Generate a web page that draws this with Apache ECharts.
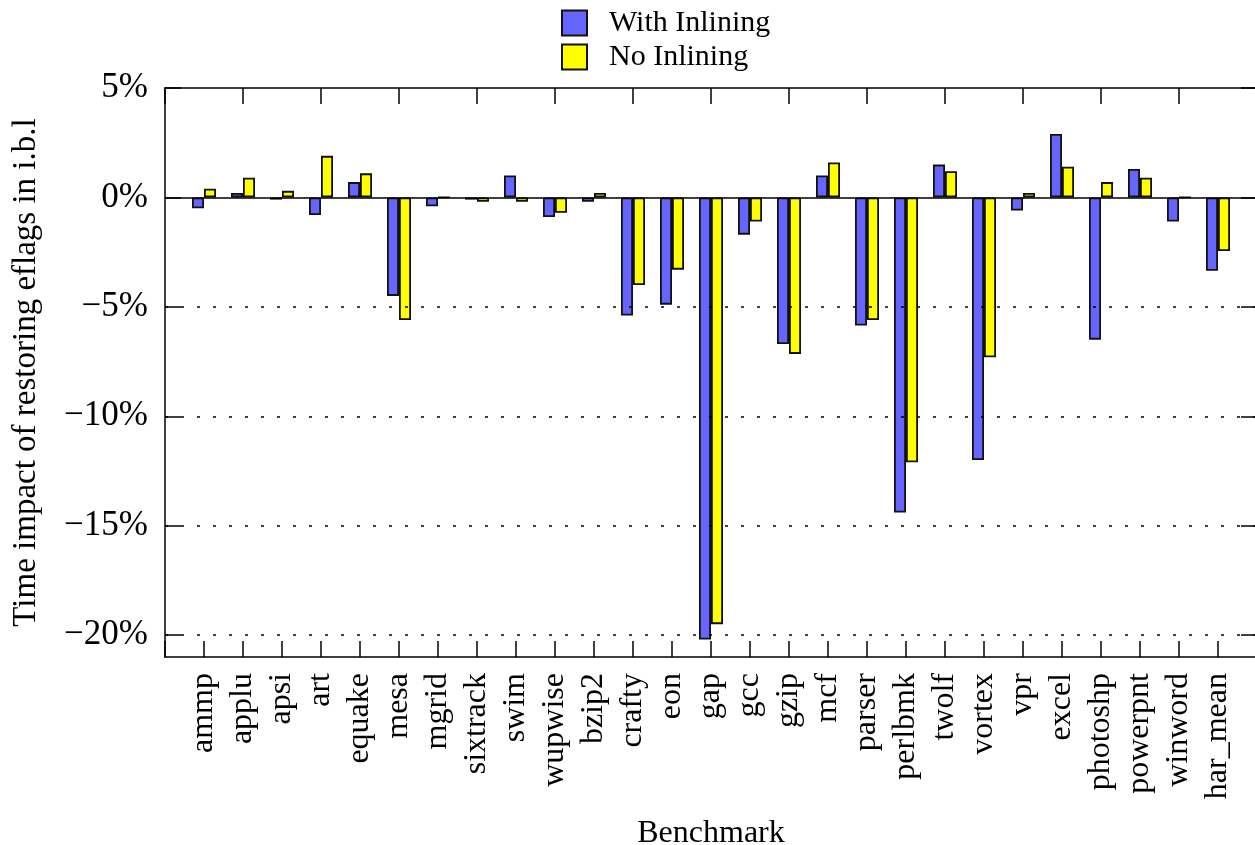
<!DOCTYPE html>
<html>
<head>
<meta charset="utf-8">
<script src="https://cdn.jsdelivr.net/npm/echarts@6/dist/echarts.min.js"></script>
<style>
html,body{margin:0;padding:0;background:#fff;}
#chart{width:1255px;height:845px;}
</style>
</head>
<body>
<div id="chart"></div>
<script>
const categories = ['ammp','applu','apsi','art','equake','mesa','mgrid','sixtrack','swim','wupwise','bzip2','crafty','eon','gap','gcc','gzip','mcf','parser','perlbmk','twolf','vortex','vpr','excel','photoshp','powerpnt','winword','har_mean'];
const withInlining = [-0.5, 0.2, -0.1, -0.8, 0.7, -4.5, -0.4, -0.1, 1.0, -0.9, -0.2, -5.4, -4.9, -20.2, -1.7, -6.7, 1.0, -5.85, -14.4, 1.5, -12.0, -0.6, 2.9, -6.5, 1.3, -1.1, -3.35];
const noInlining = [0.4, 0.9, 0.3, 1.9, 1.1, -5.6, 0, -0.2, -0.2, -0.7, 0.2, -4.0, -3.3, -19.5, -1.1, -7.15, 1.6, -5.6, -12.1, 1.2, -7.3, 0.2, 1.4, 0.7, 0.9, 0, -2.45];
const yTicks = [5, 0, -5, -10, -15, -20];
const gridLines = [-5, -10, -15, -20];

const FONT = 'Liberation Serif';
const paddedCats = [''].concat(categories, ['']);
const pad = arr => [null].concat(arr, [null]);
const fmt = v => (v < 0 ? '\u2212' + (-v) : String(v)) + '%';

const chart = echarts.init(document.getElementById('chart'), null, {renderer: 'canvas'});
const option = {
  animation: false,
  backgroundColor: '#fff',
  textStyle: {fontFamily: FONT, color: '#000'},
  legend: {
    orient: 'vertical',
    left: 561, top: 8,
    padding: 0,
    itemWidth: 25, itemHeight: 25, itemGap: 4,
    icon: 'rect',
    textStyle: {fontFamily: FONT, fontSize: 30, lineHeight: 25, color: '#000', padding: [0, 0, 0, 17]},
    data: ['With Inlining', 'No Inlining']
  },
  grid: {left: 165, right: -2, top: 88, bottom: 188, containLabel: false, outerBoundsMode: 'none'},
  xAxis: [{
    type: 'category',
    data: paddedCats,
    boundaryGap: false,
    position: 'bottom',
    name: 'Benchmark',
    nameLocation: 'middle',
    nameGap: 161,
    nameTextStyle: {fontFamily: FONT, fontSize: 32, color: '#000'},
    axisLine: {show: true, onZero: false, lineStyle: {color: '#000', width: 1.5}},
    axisTick: {show: true, inside: true, length: 16, alignWithLabel: true, lineStyle: {color: '#000', width: 1.5}},
    axisLabel: {show: true, interval: 0, rotate: 90, margin: 16, fontFamily: FONT, fontSize: 32, color: '#000'},
    splitLine: {show: false}
  }, {
    type: 'category',
    data: paddedCats,
    boundaryGap: false,
    position: 'top',
    axisLine: {show: true, onZero: false, lineStyle: {color: '#000', width: 1.5}},
    axisTick: {show: true, inside: true, length: 16, lineStyle: {color: '#000', width: 1.5}},
    axisLabel: {show: false},
    splitLine: {show: false}
  }],
  yAxis: [{
    type: 'value',
    min: -21, max: 5,
    position: 'left',
    name: 'Time impact of restoring eflags in i.b.l',
    nameLocation: 'middle',
    nameGap: 122,
    nameRotate: 90,
    nameTextStyle: {fontFamily: FONT, fontSize: 33, color: '#000'},
    axisLine: {show: true, onZero: false, lineStyle: {color: '#000', width: 1.5}},
    axisTick: {show: true, inside: true, length: 16, customValues: yTicks, lineStyle: {color: '#000', width: 1.5}},
    axisLabel: {show: true, margin: 17, customValues: yTicks, formatter: fmt, fontFamily: FONT, fontSize: 35, color: '#000', padding: [10, 0, 0, 0]},
    splitLine: {show: false}
  }, {
    type: 'value',
    min: -21, max: 5,
    position: 'right',
    axisLine: {show: true, onZero: false, lineStyle: {color: '#000', width: 1.5}},
    axisTick: {show: true, inside: true, length: 16, customValues: yTicks, lineStyle: {color: '#000', width: 1.5}},
    axisLabel: {show: false},
    splitLine: {show: false}
  }],
  series: [{
    name: 'With Inlining',
    type: 'bar',
    data: pad(withInlining),
    barWidth: 12,
    barGap: '0%',
    itemStyle: {color: '#6666ff', borderColor: '#111', borderWidth: 1.8},
    markLine: {
      silent: true,
      symbol: 'none',
      label: {show: false},
      lineStyle: {color: '#000', width: 1.5, type: [3, 13]},
      data: gridLines.map(v => ({yAxis: v})).concat([{yAxis: 0, lineStyle: {type: 'solid', color: '#000', width: 1.5}}])
    }
  }, {
    name: 'No Inlining',
    type: 'bar',
    data: pad(noInlining),
    barWidth: 12,
    barGap: '0%',
    itemStyle: {color: '#ffff00', borderColor: '#111', borderWidth: 1.8}
  }]
};
chart.setOption(option);
</script>
</body>
</html>
